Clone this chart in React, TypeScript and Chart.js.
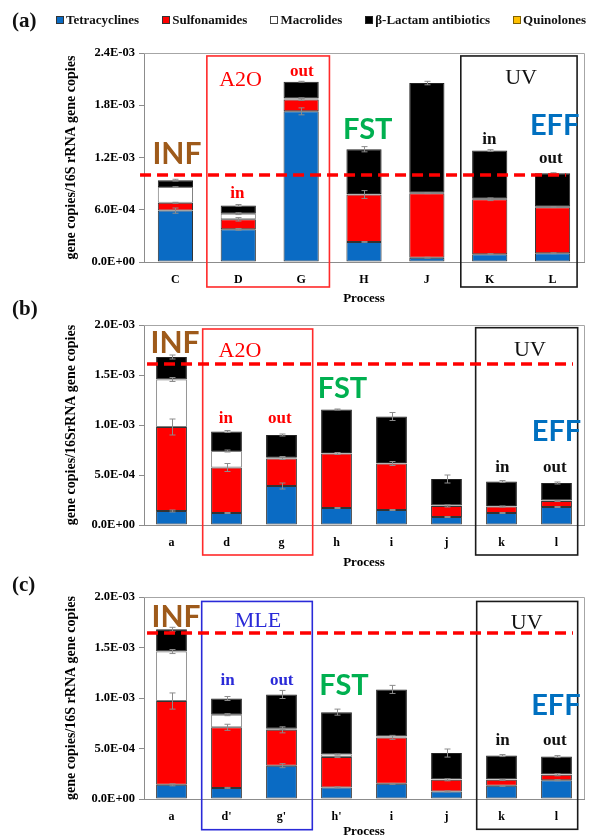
import React, { useEffect, useRef } from 'react';
import { Chart, registerables } from 'chart.js';

Chart.register(...registerables);

const SERIF = '"Liberation Serif", "Times New Roman", serif';
const SANS = 'Lato, "Open Sans", sans-serif';

const SERIES_NAMES = ['Tetracyclines', 'Sulfonamides', 'Macrolides', 'β-Lactam antibiotics', 'Quinolones'];
const SERIES_COLORS = ['#0A6BC4', '#FF0000', '#FFFFFF', '#000000', '#FFC000'];
const SERIES_BORDERS = ['#333333', '#333333', '#7F7F7F', '#222222', '#7F6000'];

// ---------- Panel (a) ----------
const catsA = ['C', 'D', 'G', 'H', 'J', 'K', 'L'];
const tetA = [5.9e-4, 3.75e-4, 1.73e-3, 2.3e-4, 5.0e-5, 9.0e-5, 1.0e-4];
const sulA = [9.0e-5, 1.15e-4, 1.35e-4, 5.45e-4, 7.4e-4, 6.3e-4, 5.3e-4];
const macA = [1.8e-4, 6.5e-5, 1.5e-5, 5e-6, 5e-6, 5e-6, 5e-6];
const betA = [8.0e-5, 9.5e-5, 1.9e-4, 5.15e-4, 1.26e-3, 5.55e-4, 3.85e-4];
const quiA = [0, 0, 0, 0, 0, 0, 0];
const tetErrA = [3e-5, 1e-5, 4e-5, 5e-6, 5e-6, 5e-6, 5e-6];
const sulErrA = [5e-6, 2e-5, 1e-5, 4.5e-5, 5e-6, 1.5e-5, 5e-6];
const macErrA = [5e-6, 1e-5, 5e-6, 0, 0, 0, 0];
const betErrA = [1e-5, 1e-5, 5e-6, 3e-5, 2e-5, 1e-5, 5e-6];

// ---------- Panel (b) ----------
const catsB = ['a', 'd', 'g', 'h', 'i', 'j', 'k', 'l'];
const tetB = [1.4e-4, 1.2e-4, 3.9e-4, 1.7e-4, 1.5e-4, 8.0e-5, 1.2e-4, 1.8e-4];
const sulB = [8.4e-4, 4.55e-4, 2.75e-4, 5.45e-4, 4.65e-4, 1.1e-4, 6.5e-5, 6.0e-5];
const macB = [4.75e-4, 1.65e-4, 1.5e-5, 5e-6, 5e-6, 5e-6, 5e-6, 5e-6];
const betB = [2.25e-4, 1.95e-4, 2.2e-4, 4.35e-4, 4.65e-4, 2.65e-4, 2.45e-4, 1.75e-4];
const quiB = [0, 0, 0, 0, 0, 0, 0, 0];
const tetErrB = [1e-5, 5e-6, 3e-5, 5e-6, 5e-6, 5e-6, 5e-6, 5e-6];
const sulErrB = [8e-5, 4e-5, 1e-5, 1e-5, 2e-5, 1e-5, 5e-6, 5e-6];
const macErrB = [2e-5, 1e-5, 5e-6, 0, 0, 0, 0, 0];
const betErrB = [2e-5, 1e-5, 1e-5, 5e-6, 4e-5, 4e-5, 1e-5, 1e-5];

// ---------- Panel (c) ----------
const catsC = ['a', "d'", "g'", "h'", 'i', 'j', 'k', 'l'];
const tetC = [1.4e-4, 1.1e-4, 3.3e-4, 1.15e-4, 1.5e-4, 7.5e-5, 1.3e-4, 1.85e-4];
const sulC = [8.3e-4, 6.0e-4, 3.55e-4, 3.0e-4, 4.6e-4, 1.15e-4, 6.0e-5, 5.5e-5];
const macC = [4.9e-4, 1.25e-4, 1.0e-5, 2.5e-5, 1.0e-5, 5e-6, 5e-6, 5e-6];
const betC = [2.2e-4, 1.6e-4, 3.4e-4, 4.2e-4, 4.65e-4, 2.6e-4, 2.35e-4, 1.75e-4];
const quiC = [0, 0, 0, 0, 0, 0, 0, 0];
const tetErrC = [1e-5, 5e-6, 2e-5, 5e-6, 5e-6, 5e-6, 5e-6, 5e-6];
const sulErrC = [8e-5, 3e-5, 3e-5, 5e-6, 2e-5, 1e-5, 5e-6, 1e-5];
const macErrC = [2e-5, 1e-5, 5e-6, 5e-6, 0, 0, 0, 0];
const betErrC = [2e-5, 2e-5, 4e-5, 3e-5, 4e-5, 4e-5, 1e-5, 1e-5];

type Txt = { t: string; i: number; v: number; color: string; font: string };
type Box = { i0: number; i1: number; v0: number; v1: number; color: string };
type Dash = { i0: number; i1: number; v: number };

const BROWN = '#9E5A1A';
const GREEN = '#00B050';
const EFFBLUE = '#0070C0';
const RED = '#FF0000';
const MLEBLUE = '#2A2AD8';

const fInf = `bold 30px ${SANS}`;
const fBig = `bold 29px ${SANS}`;
const fProc = `22px ${SERIF}`;
const fIO = `bold 17px ${SERIF}`;

function sci(v: number): string {
  if (Math.abs(v) < 1e-12) return '0.0E+00';
  const s = v.toExponential(1);
  const [m, e] = s.split('e');
  const n = parseInt(e, 10);
  const a = Math.abs(n);
  return `${m}E${n < 0 ? '-' : '+'}${a < 10 ? '0' + a : a}`;
}

const decorPlugin = {
  id: 'decor',
  afterDatasetsDraw(chart: any, _args: any, opts: any) {
    const ctx = chart.ctx;
    const xs = chart.scales.x;
    const ys = chart.scales.y;
    const X = (i: number) => xs.getPixelForValue(i);
    const Y = (v: number) => ys.getPixelForValue(v);
    const ca = chart.chartArea;
    ctx.save();
    // frame (top and right edges of plot area)
    ctx.strokeStyle = '#A6A6A6';
    ctx.lineWidth = 1;
    ctx.beginPath();
    ctx.moveTo(ca.left, Math.round(ca.top) + 0.5);
    ctx.lineTo(Math.round(ca.right) + 0.5, Math.round(ca.top) + 0.5);
    ctx.lineTo(Math.round(ca.right) + 0.5, ca.bottom);
    ctx.stroke();

    // error bars
    const ds = chart.data.datasets;
    const n = chart.data.labels.length;
    ctx.strokeStyle = '#8C8C8C';
    ctx.lineWidth = 1;
    for (let i = 0; i < n; i++) {
      let cum = 0;
      for (let d = 0; d < ds.length; d++) {
        const val = ds[d].data[i] as number;
        cum += val;
        const err = ds[d].errors ? ds[d].errors[i] : 0;
        if (!err) continue;
        const x = Math.round(X(i)) + 0.5;
        const y0 = Y(cum - err);
        const y1 = Y(cum + err);
        ctx.beginPath();
        ctx.moveTo(x, y0);
        ctx.lineTo(x, y1);
        ctx.moveTo(x - 3, y0);
        ctx.lineTo(x + 3, y0);
        ctx.moveTo(x - 3, y1);
        ctx.lineTo(x + 3, y1);
        ctx.stroke();
      }
    }

    // boxes
    (opts.boxes || []).forEach((b: Box) => {
      ctx.strokeStyle = b.color;
      ctx.lineWidth = 1.6;
      const x0 = X(b.i0), x1 = X(b.i1), y0 = Y(b.v0), y1 = Y(b.v1);
      ctx.strokeRect(x0, y0, x1 - x0, y1 - y0);
    });

    // texts
    ctx.textAlign = 'center';
    ctx.textBaseline = 'middle';
    (opts.texts || []).forEach((t: Txt) => {
      ctx.font = t.font;
      ctx.fillStyle = t.color;
      ctx.fillText(t.t, X(t.i), Y(t.v));
    });

    // dashed line
    (opts.dashes || []).forEach((d: Dash) => {
      ctx.strokeStyle = RED;
      ctx.lineWidth = 3.5;
      ctx.setLineDash([11, 6]);
      ctx.beginPath();
      ctx.moveTo(X(d.i0), Y(d.v));
      ctx.lineTo(X(d.i1), Y(d.v));
      ctx.stroke();
      ctx.setLineDash([]);
    });
    ctx.restore();
  },
};

type PanelSpec = {
  labels: string[];
  series: number[][];
  errors: number[][];
  max: number;
  step: number;
  padTop: number;
  xHeight: number;
  yTitle: string;
  boxes: Box[];
  texts: Txt[];
  dashes: Dash[];
};

const LEFT_PAD = 63;
const AXIS_W = 81;
const RIGHT_PAD = 22;

function makeConfig(p: PanelSpec): any {
  return {
    type: 'bar',
    data: {
      labels: p.labels,
      datasets: p.series.map((s, k) => ({
        label: SERIES_NAMES[k],
        data: s,
        errors: p.errors[k],
        backgroundColor: SERIES_COLORS[k],
        borderColor: SERIES_BORDERS[k],
        borderWidth: k === 4 ? 0 : 1,
        borderSkipped: false,
        barPercentage: 0.56,
        categoryPercentage: 1,
      })),
    },
    options: {
      responsive: false,
      animation: false,
      devicePixelRatio: 1,
      layout: { padding: { left: LEFT_PAD, right: RIGHT_PAD, top: p.padTop, bottom: 0 } },
      plugins: {
        legend: { display: false },
        tooltip: { enabled: false },
        decor: { boxes: p.boxes, texts: p.texts, dashes: p.dashes },
      },
      scales: {
        x: {
          stacked: true,
          afterFit: (s: any) => { s.height = p.xHeight; },
          grid: { display: false },
          border: { display: true, color: '#8C8C8C', width: 1 },
          ticks: { color: '#000', font: { family: SERIF, size: 12, weight: 'bold' }, padding: 3 },
          title: {
            display: true,
            text: 'Process',
            color: '#000',
            font: { family: SERIF, size: 13, weight: 'bold' },
            padding: { top: 0, bottom: 0 },
          },
        },
        y: {
          stacked: true,
          min: 0,
          max: p.max,
          afterFit: (s: any) => { s.width = AXIS_W; },
          grid: { display: true, drawOnChartArea: false, drawTicks: true, tickLength: 5, color: '#8C8C8C' },
          border: { display: true, color: '#8C8C8C', width: 1 },
          ticks: {
            stepSize: p.step,
            color: '#000',
            padding: 4,
            font: { family: SERIF, size: 12.5, weight: 'bold' },
            callback: (v: any) => sci(Number(v)),
          },
          title: {
            display: true,
            text: p.yTitle,
            color: '#000',
            font: { family: SERIF, size: 14, weight: 'bold' },
            padding: { top: 0, bottom: 0 },
          },
        },
      },
    },
    plugins: [decorPlugin],
  };
}

const panelA: PanelSpec = {
  labels: catsA,
  series: [tetA, sulA, macA, betA, quiA],
  errors: [tetErrA, sulErrA, macErrA, betErrA, quiA],
  max: 2.4e-3,
  step: 6e-4,
  padTop: 53,
  xHeight: 44,
  yTitle: 'gene copies/16S rRNA gene copies',
  boxes: [
    { i0: 0.5, i1: 2.45, v0: 2.366e-3, v1: -0.287e-3, color: '#FF2A2A' },
    { i0: 4.54, i1: 6.39, v0: 2.366e-3, v1: -0.287e-3, color: '#1A1A1A' },
  ],
  texts: [
    { t: 'INF', i: 0.023, v: 1.24e-3, color: BROWN, font: fInf },
    { t: 'A2O', i: 1.036, v: 2.09e-3, color: RED, font: fProc },
    { t: 'out', i: 2.01, v: 2.19e-3, color: RED, font: fIO },
    { t: 'in', i: 0.984, v: 0.78e-3, color: RED, font: fIO },
    { t: 'FST', i: 3.06, v: 1.516e-3, color: GREEN, font: fBig },
    { t: 'UV', i: 5.498, v: 2.113e-3, color: '#111', font: fProc },
    { t: 'EFF', i: 6.033, v: 1.562e-3, color: EFFBLUE, font: fBig },
    { t: 'in', i: 4.996, v: 1.401e-3, color: '#111', font: fIO },
    { t: 'out', i: 5.973, v: 1.183e-3, color: '#111', font: fIO },
  ],
  dashes: [{ i0: -0.563, i1: 6.215, v: 1.0e-3 }],
};

const panelB: PanelSpec = {
  labels: catsB,
  series: [tetB, sulB, macB, betB, quiB],
  errors: [tetErrB, sulErrB, macErrB, betErrB, quiB],
  max: 2.0e-3,
  step: 5e-4,
  padTop: 25,
  xHeight: 45,
  yTitle: 'gene copies/16SrRNA gene copies',
  boxes: [
    { i0: 0.567, i1: 2.567, v0: 1.96e-3, v1: -0.3e-3, color: '#FF2A2A' },
    { i0: 5.53, i1: 7.385, v0: 1.973e-3, v1: -0.3e-3, color: '#1A1A1A' },
  ],
  texts: [
    { t: 'INF', i: 0.064, v: 1.82e-3, color: BROWN, font: fInf },
    { t: 'A2O', i: 1.245, v: 1.733e-3, color: RED, font: fProc },
    { t: 'in', i: 0.99, v: 1.06e-3, color: RED, font: fIO },
    { t: 'out', i: 1.97, v: 1.06e-3, color: RED, font: fIO },
    { t: 'FST', i: 3.109, v: 1.36e-3, color: GREEN, font: fBig },
    { t: 'UV', i: 6.518, v: 1.75e-3, color: '#111', font: fProc },
    { t: 'EFF', i: 7.0, v: 0.93e-3, color: EFFBLUE, font: fBig },
    { t: 'in', i: 6.015, v: 0.577e-3, color: '#111', font: fIO },
    { t: 'out', i: 6.97, v: 0.577e-3, color: '#111', font: fIO },
  ],
  dashes: [{ i0: -0.445, i1: 7.3, v: 1.61e-3 }],
};

const panelC: PanelSpec = {
  labels: catsC,
  series: [tetC, sulC, macC, betC, quiC],
  errors: [tetErrC, sulErrC, macErrC, betErrC, quiC],
  max: 2.0e-3,
  step: 5e-4,
  padTop: 27,
  xHeight: 40,
  yTitle: 'gene copies/16S rRNA gene copies',
  boxes: [
    { i0: 0.549, i1: 2.56, v0: 1.956e-3, v1: -0.304e-3, color: MLEBLUE },
    { i0: 5.549, i1: 7.385, v0: 1.956e-3, v1: -0.30e-3, color: '#1A1A1A' },
  ],
  texts: [
    { t: 'INF', i: 0.082, v: 1.795e-3, color: BROWN, font: fInf },
    { t: 'MLE', i: 1.573, v: 1.758e-3, color: MLEBLUE, font: fProc },
    { t: 'in', i: 1.02, v: 1.174e-3, color: MLEBLUE, font: fIO },
    { t: 'out', i: 2.004, v: 1.174e-3, color: MLEBLUE, font: fIO },
    { t: 'FST', i: 3.136, v: 1.121e-3, color: GREEN, font: fBig },
    { t: 'UV', i: 6.458, v: 1.743e-3, color: '#111', font: fProc },
    { t: 'EFF', i: 6.99, v: 0.924e-3, color: EFFBLUE, font: fBig },
    { t: 'in', i: 6.02, v: 0.58e-3, color: '#111', font: fIO },
    { t: 'out', i: 6.97, v: 0.58e-3, color: '#111', font: fIO },
  ],
  dashes: [{ i0: -0.445, i1: 7.3, v: 1.644e-3 }],
};

function PanelCanvas({ spec, top, height }: { spec: PanelSpec; top: number; height: number }) {
  const ref = useRef<HTMLCanvasElement | null>(null);
  useEffect(() => {
    if (!ref.current) return;
    const chart = new Chart(ref.current, makeConfig(spec));
    return () => chart.destroy();
  }, [spec]);
  return (
    <canvas
      ref={ref}
      width={606}
      height={height}
      style={{ position: 'absolute', left: 0, top, width: 606, height }}
    />
  );
}

const panelLabel = (txt: string, top: number) => (
  <div
    style={{
      position: 'absolute',
      left: 12,
      top,
      fontFamily: SERIF,
      fontWeight: 'bold',
      fontSize: 21,
      lineHeight: '24px',
      color: '#111',
    }}
  >
    {txt}
  </div>
);

export default function App() {
  return (
    <div style={{ position: 'absolute', left: 0, top: 0, width: 606, height: 839, background: '#fff', overflow: 'hidden' }}>
      <PanelCanvas spec={panelA} top={0} height={306} />
      <PanelCanvas spec={panelB} top={300} height={270} />
      <PanelCanvas spec={panelC} top={570} height={269} />
      {panelLabel('(a)', 8)}
      {panelLabel('(b)', 296)}
      {panelLabel('(c)', 572)}
      <div
        style={{
          position: 'absolute',
          left: 56,
          top: 12,
          width: 530,
          display: 'flex',
          justifyContent: 'space-between',
          fontFamily: SERIF,
          fontWeight: 'bold',
          fontSize: 13,
          lineHeight: '16px',
          color: '#111',
        }}
      >
        {SERIES_NAMES.map((n, k) => (
          <div key={n} style={{ display: 'flex', alignItems: 'center', whiteSpace: 'nowrap' }}>
            <span
              style={{
                display: 'inline-block',
                width: 6,
                height: 6,
                marginRight: 2,
                background: SERIES_COLORS[k],
                border: `1px solid ${k === 2 ? '#444' : SERIES_BORDERS[k]}`,
              }}
            />
            <span>{n}</span>
          </div>
        ))}
      </div>
    </div>
  );
}
